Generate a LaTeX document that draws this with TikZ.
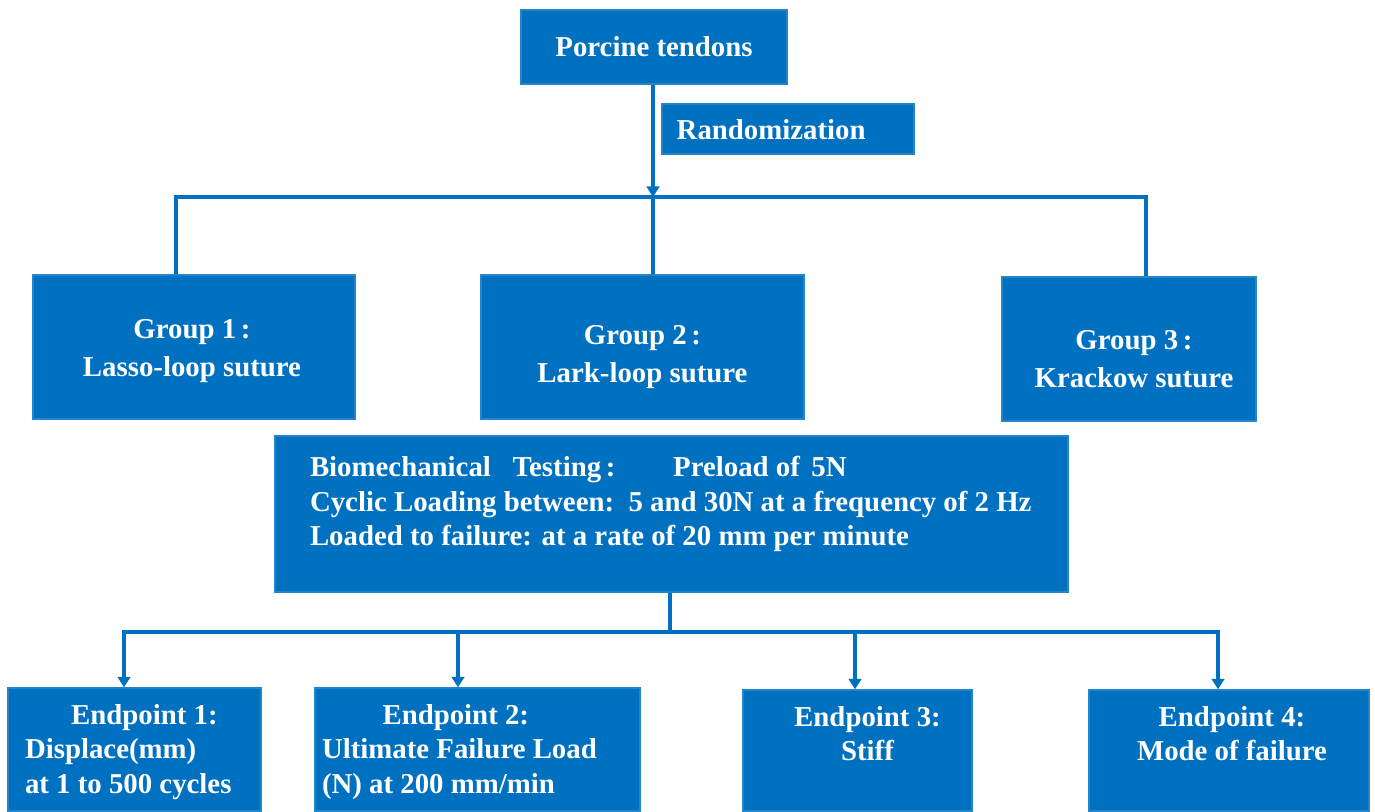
\documentclass[tikz,border=0pt]{standalone}
\usepackage{fontspec}
\setmainfont{Liberation Serif}
\usetikzlibrary{positioning,calc,arrows.meta}
\definecolor{boxblue}{RGB}{0,112,192}
\tikzset{
  bbox/.style={fill=boxblue, draw=boxblue!85!white, line width=0.4pt, inner sep=0pt},
  btext/.style={text=white, font=\bfseries\fontsize{8.2}{9.9}\selectfont, inner sep=0pt},
  gtext/.style={btext, align=center, font=\bfseries\fontsize{8.2}{10.8}\selectfont},
  wire/.style={draw=boxblue, line width=0.9pt},
  arr/.style={wire, -{Triangle[length=3pt,width=3.6pt]}}
}

\begin{document}
\begin{tikzpicture}
\useasboundingbox (0,0) rectangle (13.75,-8.11);

% top boxes
\node[bbox, minimum width=2.66cm, minimum height=0.74cm] (porc) at (6.54,-0.47) {};
\node[btext] (porct) at (porc.center) {Porcine tendons};
\node[bbox, minimum width=2.52cm, minimum height=0.50cm] (rand) at (7.88,-1.29) {};
\node[btext, anchor=west] (randt) at (6.76,-1.30) {Randomization};

% groups
\node[bbox, minimum width=3.22cm, minimum height=1.44cm] (g1) at (1.94,-3.47) {};
\node[bbox, minimum width=3.23cm, minimum height=1.44cm] (g2) at (6.425,-3.47) {};
\node[bbox, minimum width=2.54cm, minimum height=1.44cm] (g3) at (11.29,-3.49) {};
\node[gtext] (g1t) at ($(g1.center)+(-0.02,-0.04)$) {Group 1\,:\\Lasso-loop suture};
\node[gtext] (g2t) at ($(g2.center)+(0.0,-0.10)$) {Group 2\,:\\Lark-loop suture};
\node[gtext] (g3t) at ($(g3.center)+(0.05,-0.10)$) {Group 3\,:\\Krackow suture};

% testing
\node[bbox, minimum width=7.93cm, minimum height=1.56cm] (bio) at (6.715,-5.14) {};
\node[btext, align=left, anchor=north west] (biot) at ($(bio.north west)+(0.35,-0.2)$)
  {Biomechanical\hspace{0.5em} Testing\,:\hspace{2em}Preload of\hspace{0.4em}5N\\
   Cyclic Loading between:\hspace{0.5em}5 and 30N at a frequency of 2 Hz\\
   Loaded to failure: at a rate of 20 mm per minute};

% endpoints
\node[bbox, minimum width=2.53cm, minimum height=1.23cm] (e1) at (1.345,-7.495) {};
\node[bbox, minimum width=3.25cm, minimum height=1.23cm] (e2) at (4.775,-7.495) {};
\node[bbox, minimum width=2.29cm, minimum height=1.21cm] (e3) at (8.575,-7.505) {};
\node[bbox, minimum width=2.80cm, minimum height=1.21cm] (e4) at (12.29,-7.505) {};

\node[btext, align=left, anchor=north west] (e1t) at ($(e1.north west)+(0.17,-0.16)$)
  {\hspace*{1.6em}Endpoint 1:\\Displace(mm)\\at 1 to 500 cycles};
\node[btext, align=left, anchor=north west] (e2t) at ($(e2.north west)+(0.07,-0.16)$)
  {\hspace*{2.1em}Endpoint 2:\\Ultimate Failure Load\\(N) at 200 mm/min};
\node[btext, align=center, anchor=north] (e3t) at ($(e3.north)+(0.1,-0.16)$)
  {Endpoint 3:\\Stiff};
\node[btext, align=center, anchor=north] (e4t) at ($(e4.north)+(0.03,-0.16)$)
  {Endpoint 4:\\Mode of failure};

% connectors
\coordinate (bus1) at (6.53,-1.97);
\coordinate (g1in) at ($(g1.north)+(-0.18,0)$);
\coordinate (g3in) at ($(g3.north)+(0.17,0)$);
\draw[arr] (porc.south -| bus1) -- (bus1);
\draw[wire] (bus1) -- (bus1 |- g2.north);
\draw[wire] (g1in) -- (g1in |- bus1) -| (g3in);

\coordinate (bus2) at (6.70,-6.32);
\draw[wire] (bio.south -| bus2) -- (bus2);
\draw[arr] (bus2) -| ($(e1.north)+(-0.105,0)$);
\draw[arr] (bus2) -| ($(e2.north)+(-0.195,0)$);
\draw[arr] (bus2) -| ($(e3.north)+(-0.025,0)$);
\draw[arr] (bus2) -| ($(e4.north)+(-0.11,0)$);
\end{tikzpicture}
\end{document}
